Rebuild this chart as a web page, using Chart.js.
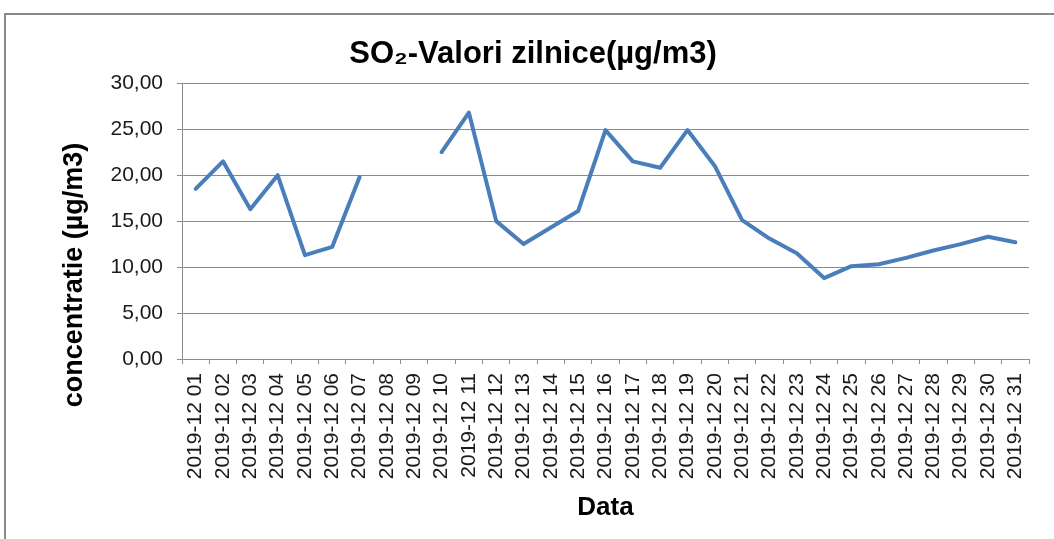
<!DOCTYPE html>
<html>
<head>
<meta charset="utf-8">
<script src="https://cdn.jsdelivr.net/npm/chart.js@4/dist/chart.umd.min.js"></script>
<style>
  html, body { margin: 0; padding: 0; background: #fff; }
  #wrap { position: relative; width: 1054px; height: 539px; overflow: hidden; }
  #frame { position: absolute; left: 4px; top: 13px; width: 1100px; height: 600px;
           border-left: 2px solid #8a8a8a; border-top: 2px solid #8a8a8a; }
  canvas { position: absolute; left: 0; top: 0; }
</style>
</head>
<body>
<div id="wrap">
  <div id="frame"></div>
  <canvas id="so2_chart" width="1054" height="539"></canvas>
</div>
<script>
// categories (days of December 2019)
let days = [
    '2019-12 01', '2019-12 02', '2019-12 03', '2019-12 04', '2019-12 05',
    '2019-12 06', '2019-12 07', '2019-12 08', '2019-12 09', '2019-12 10',
    '2019-12 11', '2019-12 12', '2019-12 13', '2019-12 14', '2019-12 15',
    '2019-12 16', '2019-12 17', '2019-12 18', '2019-12 19', '2019-12 20',
    '2019-12 21', '2019-12 22', '2019-12 23', '2019-12 24', '2019-12 25',
    '2019-12 26', '2019-12 27', '2019-12 28', '2019-12 29', '2019-12 30',
    '2019-12 31'
];
// daily SO2 values, null = no measurement
let so2Values = [
    18.5, 21.5, 16.3, 20.0, 11.3, 12.2, 19.8, null, null, 22.5,
    26.8, 15.0, 12.5, 14.3, 16.1, 24.9, 21.5, 20.8, 24.9, 21.0,
    15.1, 13.1, 11.5, 8.8, 10.1, 10.3, 11.0, 11.8, 12.5, 13.3,
    12.7
];
let yTicks = [0, 5, 10, 15, 20, 25, 30];

let chartTitle = 'SO\u2082-Valori zilnice(\u00b5g/m3)';
let yTitle = 'concentratie (\u00b5g/m3)';
let xTitle = 'Data';

let fontFamily = 'Liberation Sans, Arial, sans-serif';
let gridColor = '#8c8c8c';
let lineColor = '#4a7ebb';

// y axis title: Excel puts it a bit lower than the middle of the plot
let yTitlePlugin = {
    id: 'yTitlePlugin',
    afterDraw: function (chart) {
        let c = chart.ctx;
        c.save();
        c.translate(75, 275);
        c.rotate(-Math.PI / 2);
        c.textAlign = 'center';
        c.textBaseline = 'middle';
        c.fillStyle = '#000';
        c.font = 'bold 27px ' + fontFamily;
        c.fillText(yTitle, 0, 0);
        c.restore();
    }
};

let ctx = document.getElementById('so2_chart').getContext('2d');

new Chart(ctx, {
    type: 'line',
    data: {
        labels: days,
        datasets: [{
            label: 'SO2',
            data: so2Values,
            borderColor: lineColor,
            backgroundColor: lineColor,
            borderWidth: 4,
            pointRadius: 0,
            pointHoverRadius: 0,
            fill: false,
            spanGaps: false,
            tension: 0,
            borderCapStyle: 'round',
            borderJoinStyle: 'round'
        }]
    },
    plugins: [yTitlePlugin],
    options: {
        responsive: false,
        animation: false,
        devicePixelRatio: 1,
        layout: {
            padding: { left: 37, right: 25, top: 28, bottom: 14 }
        },
        plugins: {
            legend: { display: false },
            tooltip: { enabled: false },
            title: {
                display: true,
                text: chartTitle,
                color: '#000',
                font: { family: fontFamily, size: 31, weight: 'bold' },
                padding: { top: 8, bottom: 10 }
            }
        },
        scales: {
            x: {
                type: 'category',
                offset: true,
                grid: {
                    offset: true,
                    drawOnChartArea: false,
                    drawTicks: true,
                    tickLength: 5,
                    color: gridColor
                },
                border: { display: true, color: gridColor, width: 1 },
                ticks: {
                    autoSkip: false,
                    minRotation: 90,
                    maxRotation: 90,
                    padding: 9,
                    color: '#1a1a1a',
                    font: { family: fontFamily, size: 21 }
                },
                title: {
                    display: true,
                    text: xTitle,
                    color: '#000',
                    font: { family: fontFamily, size: 26, weight: 'bold' },
                    padding: { top: 0, bottom: 2 }
                },
                afterFit: function (scale) { scale.height = 166; }
            },
            y: {
                min: 0,
                max: 30,
                afterBuildTicks: function (scale) {
                    scale.ticks = yTicks.map(function (v) { return { value: v }; });
                },
                grid: {
                    color: gridColor,
                    lineWidth: 1,
                    tickLength: 5
                },
                border: { display: true, color: gridColor, width: 1 },
                ticks: {
                    padding: 14,
                    color: '#1a1a1a',
                    font: { family: fontFamily, size: 21 },
                    callback: function (value) { return value.toFixed(2).replace('.', ','); }
                },
                title: { display: false },
                afterFit: function (scale) { scale.width = 145; }
            }
        }
    }
});
</script>
</body>
</html>
